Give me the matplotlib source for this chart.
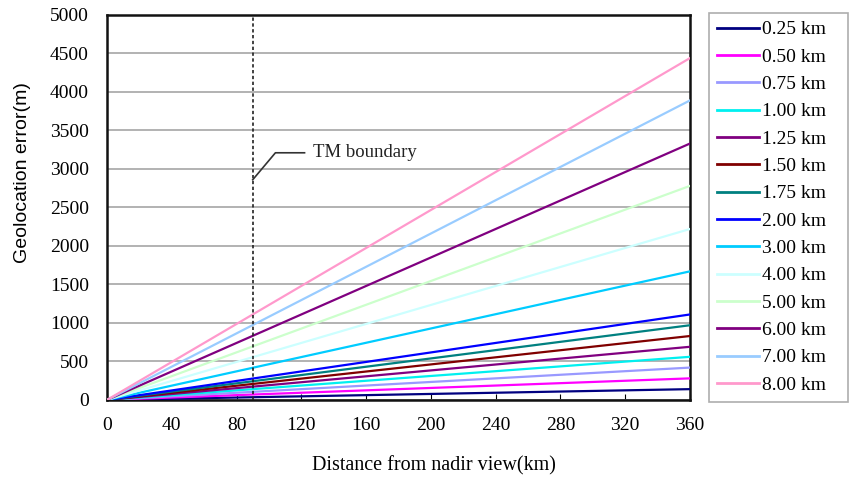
import matplotlib
matplotlib.use('Agg')
import matplotlib.pyplot as plt

plt.rcParams['font.family'] = ['Liberation Serif', 'DejaVu Serif']

# 观测高度 (km) 以及 360 km 处的定位误差 (m)
heights = ['0.25', '0.50', '0.75', '1.00', '1.25', '1.50', '1.75',
           '2.00', '3.00', '4.00', '5.00', '6.00', '7.00', '8.00']
err_end = [140, 280, 420, 560, 690, 830, 970,
           1110, 1670, 2220, 2780, 3330, 3890, 4440]
colors = ['#000080', '#FF00FF', '#9999FF', '#00F0F0', '#800080', '#800000',
          '#008080', '#0000FF', '#00CCFF', '#CCFFFF', '#CCFFCC', '#800080',
          '#99CCFF', '#FF99CC']
dist = [0, 360]

tm_boundary = 90

fig = plt.figure(figsize=(8.56, 4.83), dpi=100)
ax = fig.add_axes([0.125, 0.172, 0.681, 0.797])

for h, e, c in zip(heights, err_end, colors):
    ax.plot(dist, [0, e], color=c, linewidth=1.6, label=f'{h} km', zorder=3)

ax.axvline(tm_boundary, color='#222222', linestyle=(0, (2, 1.5)), linewidth=1.2, zorder=4)
ax.plot([tm_boundary, 104, 122], [2860, 3210, 3210], color='#333333', linewidth=1.2, zorder=4)
ax.text(127, 3210, 'TM boundary', fontsize=13.5, va='center', ha='left', color='#222222')

ax.set_xlim(0, 360)
ax.set_ylim(0, 5000)
ax.set_xticks(range(0, 361, 40))
ax.set_yticks(range(0, 5001, 500))
ax.yaxis.grid(True, color='#a6a6a6', linewidth=1.2, zorder=0)
ax.set_axisbelow(True)
ax.tick_params(axis='x', direction='in', length=4, labelsize=14, pad=12)
ax.tick_params(axis='y', length=0, labelsize=14, pad=13)
for s in ax.spines.values():
    s.set_linewidth(1.8)
    s.set_color('#111111')

ax.set_xlabel('Distance from nadir view(km)', fontsize=14.5)
ax.xaxis.set_label_coords(0.561, -0.145)
ax.set_ylabel('Geolocation error(m)', fontsize=14,
              family=['Liberation Sans', 'DejaVu Sans'])
ax.yaxis.set_label_coords(-0.13, 0.59)

# 图例框右侧留白较多, 用 expand 把框拉到固定宽度
leg = fig.legend(loc='upper left', bbox_to_anchor=(0.828, 0.0, 0.163, 0.973),
                 mode='expand', fontsize=14,
                 handlelength=2.2, handletextpad=0.15, labelspacing=0.5,
                 borderpad=0.4, borderaxespad=0, frameon=True, fancybox=False,
                 edgecolor='#999999')
leg.get_frame().set_linewidth(1.2)
for line in leg.get_lines():
    line.set_linewidth(2)

fig.savefig('out.png', dpi=100)
